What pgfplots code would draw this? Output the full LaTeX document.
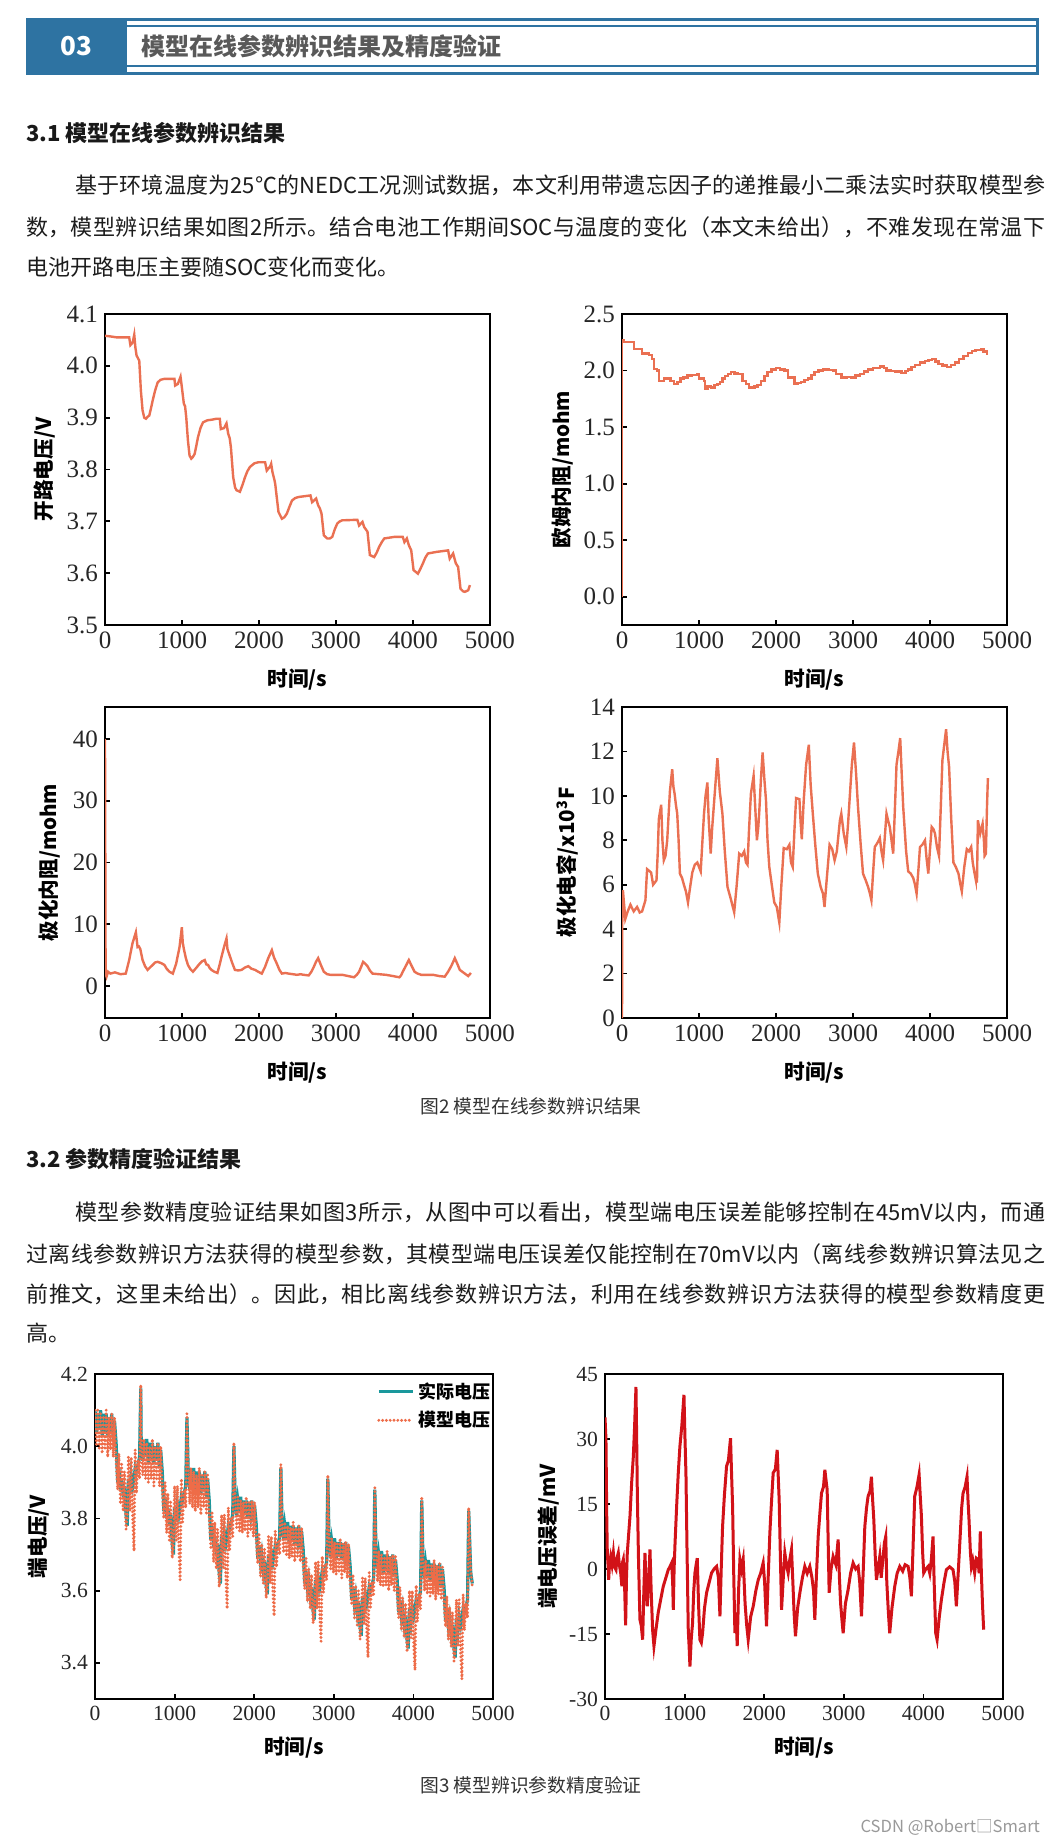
\documentclass[border=0pt]{standalone}
\usepackage{fontspec}
\setmainfont{Liberation Serif}
\newfontfamily\cjk{Noto Sans CJK SC}
\usepackage{pgfplots}
\pgfplotsset{compat=1.18}
\usepackage{pgfplotstable}
\XeTeXlinebreaklocale "zh"
\XeTeXlinebreakskip=0pt plus 2pt minus 0.2pt

\definecolor{hblue}{RGB}{46,115,162}
\definecolor{ocv}{RGB}{234,112,82}
\definecolor{teal2}{RGB}{26,152,156}
\definecolor{mod}{RGB}{238,108,72}
\definecolor{err}{RGB}{210,18,24}
\definecolor{txt}{RGB}{28,28,28}

\pgfplotsset{
  base/.style={scale only axis, xmin=0, xmax=5000, xtick={0,1000,...,5000},
    tick align=inside, xtick pos=left, ytick pos=left, major tick length=2.5pt,
    axis line style={line width=1.1pt}, every tick/.style={line width=0.9pt, black},
    /pgf/number format/assume math mode=true, /pgf/number format/1000 sep={},
    tick label style={text=black!85},
    label style={font=\cjk\bfseries\fontsize{10.3}{11}\selectfont},
    xlabel={时间/s}},
  f2/.style={base, width=192.5pt, height=155.5pt,
    tick label style={font=\fontsize{12.5}{12.5}\selectfont},
    xlabel style={at={(axis description cs:0.5,-0.174)}, anchor=center}},
  f3/.style={base, width=199pt, height=162.5pt,
    tick label style={font=\fontsize{10.8}{10.8}\selectfont},
    xlabel style={at={(axis description cs:0.5,-0.151)}, anchor=center}},
  onedec/.style={yticklabel style={/pgf/number format/.cd, fixed, fixed zerofill, precision=1}}
}

\pgfplotstableread{
t a b
0 4.10 4.10
20 4.04 4.00
35 4.09 4.10
55 4.05 3.99
70 4.10 4.09
90 4.03 3.98
105 4.09 4.08
125 4.04 3.99
140 4.09 4.10
160 4.03 3.97
175 4.08 4.08
195 4.04 3.99
210 4.09 4.09
230 4.02 3.97
245 4.07 4.08
265 4.01 3.96
285 3.90 3.88
300 3.94 3.98
320 3.88 3.84
335 3.91 3.95
355 3.86 3.82
370 3.89 3.93
390 3.81 3.77
405 3.78 3.80
420 3.91 3.97
440 3.87 3.82
455 3.92 3.97
475 3.89 3.79
490 3.91 3.71
505 3.94 3.99
520 3.93 3.87
540 3.95 3.96
560 3.97 3.91
575 4.16 4.17
580 4.02 4.02
600 3.96 3.92
615 4.01 4.02
635 3.97 3.91
650 4.02 4.01
670 3.95 3.90
685 4.01 4.00
705 3.96 3.91
720 4.01 4.02
740 3.95 3.89
755 4.00 4.00
775 3.96 3.91
790 4.01 4.01
810 3.94 3.89
825 3.99 4.00
845 3.93 3.88
865 3.82 3.80
880 3.86 3.90
900 3.80 3.76
915 3.83 3.87
935 3.78 3.74
950 3.81 3.85
970 3.73 3.69
985 3.70 3.72
1000 3.83 3.89
1020 3.79 3.74
1035 3.84 3.89
1055 3.81 3.71
1070 3.83 3.63
1085 3.86 3.91
1100 3.85 3.79
1120 3.87 3.88
1140 3.89 3.83
1155 4.08 4.09
1170 3.94 3.94
1190 3.88 3.84
1205 3.93 3.94
1225 3.89 3.83
1240 3.94 3.93
1260 3.87 3.82
1275 3.93 3.92
1295 3.88 3.83
1310 3.93 3.94
1330 3.87 3.81
1345 3.92 3.92
1365 3.88 3.83
1380 3.93 3.93
1400 3.86 3.81
1415 3.91 3.92
1435 3.85 3.80
1455 3.74 3.72
1470 3.78 3.82
1490 3.72 3.68
1505 3.75 3.79
1525 3.70 3.66
1540 3.73 3.77
1560 3.65 3.61
1575 3.62 3.64
1590 3.75 3.81
1610 3.71 3.66
1625 3.76 3.81
1645 3.73 3.63
1660 3.75 3.55
1675 3.78 3.83
1690 3.77 3.71
1710 3.79 3.80
1730 3.81 3.75
1745 4.00 4.01
1760 3.86 3.86
1780 3.81 3.775
1795 3.85 3.86
1815 3.815 3.765
1830 3.86 3.85
1850 3.80 3.76
1865 3.85 3.845
1885 3.81 3.765
1900 3.85 3.86
1920 3.80 3.75
1935 3.845 3.845
1955 3.81 3.765
1970 3.85 3.85
1990 3.79 3.75
2005 3.835 3.845
2025 3.785 3.74
2045 3.69 3.675
2060 3.725 3.76
2080 3.675 3.64
2095 3.70 3.73
2115 3.655 3.62
2130 3.68 3.715
2150 3.615 3.58
2165 3.59 3.605
2180 3.70 3.75
2200 3.665 3.62
2215 3.705 3.75
2235 3.68 3.595
2250 3.70 3.53
2265 3.725 3.765
2280 3.715 3.665
2300 3.73 3.74
2320 3.75 3.70
2335 3.94 3.95
2350 3.79 3.79
2370 3.74 3.705
2385 3.78 3.79
2405 3.745 3.695
2420 3.79 3.78
2440 3.73 3.69
2455 3.78 3.775
2475 3.74 3.695
2490 3.78 3.79
2510 3.73 3.68
2525 3.775 3.775
2545 3.74 3.695
2560 3.78 3.78
2580 3.72 3.68
2595 3.765 3.775
2615 3.715 3.67
2635 3.62 3.605
2650 3.655 3.69
2670 3.605 3.57
2685 3.63 3.66
2705 3.585 3.55
2720 3.61 3.645
2740 3.545 3.51
2755 3.52 3.535
2770 3.63 3.68
2790 3.595 3.55
2805 3.635 3.68
2825 3.61 3.525
2840 3.63 3.46
2855 3.655 3.695
2870 3.645 3.595
2890 3.66 3.67
2910 3.68 3.63
2925 3.91 3.92
2940 3.745 3.745
2960 3.695 3.66
2975 3.735 3.745
2995 3.70 3.65
3010 3.745 3.735
3030 3.685 3.645
3045 3.735 3.73
3065 3.695 3.65
3080 3.735 3.745
3100 3.685 3.635
3115 3.73 3.73
3135 3.695 3.65
3150 3.735 3.735
3170 3.675 3.635
3185 3.72 3.73
3205 3.67 3.625
3225 3.575 3.56
3240 3.61 3.645
3260 3.56 3.525
3275 3.585 3.615
3295 3.54 3.505
3310 3.565 3.60
3330 3.50 3.465
3345 3.475 3.49
3360 3.585 3.635
3380 3.55 3.505
3395 3.59 3.635
3415 3.565 3.48
3430 3.585 3.415
3445 3.61 3.65
3460 3.60 3.55
3480 3.615 3.625
3500 3.635 3.585
3515 3.88 3.89
3530 3.71 3.71
3550 3.66 3.625
3565 3.70 3.71
3585 3.665 3.615
3600 3.71 3.70
3620 3.65 3.61
3635 3.70 3.695
3655 3.66 3.615
3670 3.70 3.71
3690 3.65 3.60
3705 3.695 3.695
3725 3.66 3.615
3740 3.70 3.70
3760 3.64 3.60
3775 3.685 3.695
3795 3.635 3.59
3815 3.54 3.525
3830 3.575 3.61
3850 3.525 3.49
3865 3.55 3.58
3885 3.505 3.47
3900 3.53 3.565
3920 3.465 3.43
3935 3.44 3.455
3950 3.55 3.60
3970 3.515 3.47
3985 3.555 3.60
4005 3.53 3.445
4020 3.55 3.38
4035 3.575 3.615
4050 3.565 3.515
4070 3.58 3.59
4090 3.60 3.55
4105 3.85 3.86
4120 3.685 3.685
4140 3.635 3.60
4155 3.675 3.685
4175 3.64 3.59
4190 3.685 3.675
4210 3.625 3.585
4225 3.675 3.67
4245 3.635 3.59
4260 3.675 3.685
4280 3.625 3.575
4295 3.67 3.67
4315 3.635 3.59
4330 3.675 3.675
4350 3.615 3.575
4365 3.66 3.67
4385 3.61 3.565
4405 3.515 3.50
4420 3.55 3.585
4440 3.50 3.465
4455 3.525 3.555
4475 3.48 3.445
4490 3.505 3.54
4510 3.44 3.405
4525 3.415 3.43
4540 3.525 3.575
4560 3.49 3.445
4575 3.53 3.575
4595 3.505 3.42
4610 3.525 3.355
4625 3.55 3.59
4640 3.54 3.49
4660 3.555 3.565
4680 3.575 3.525
4695 3.82 3.83
4720 3.65 3.66
4740 3.62 3.61
}\uttab

\newcommand{\jline}[4]{\node[anchor=west,inner sep=0pt,text=txt] at (#1,#2) {\parbox{#3pt}{\cjk\fontsize{11}{13}\selectfont\parfillskip=0pt\relax #4\par}};}
\newcommand{\fline}[3]{\node[anchor=west,inner sep=0pt,text=txt] at (#1,#2) {\cjk\fontsize{11}{13}\selectfont #3};}

\begin{document}
\begin{tikzpicture}[x=0.5pt,y=-0.5pt]
\fill[white] (0,0) rectangle (1059,1842);
\path[use as bounding box] (0,0) rectangle (1059,1842);

% header
\fill[hblue] (26,18) rectangle (127,75);
\draw[hblue, line width=1.5pt] (27.5,19.5) rectangle (1037.5,73.5);
\draw[hblue, line width=0.6pt] (127,26) -- (1037,26);
\draw[hblue, line width=0.6pt] (127,66) -- (1037,66);
\node[text=white, font=\cjk\bfseries\fontsize{13}{13}\selectfont] at (76,46) {03};
\node[anchor=west, inner sep=0pt, text=black!65, font=\cjk\bfseries\fontsize{12}{12}\selectfont] at (141,46) {模型在线参数辨识结果及精度验证};

% section 3.1
\node[anchor=west, inner sep=0pt, text=black!90, font=\cjk\bfseries\fontsize{11}{11}\selectfont] at (26,133) {3.1 模型在线参数辨识结果};
\jline{75}{185}{485}{基于环境温度为25℃的NEDC工况测试数据，本文利用带遗忘因子的递推最小二乘法实时获取模型参}
\jline{26}{227}{509.5}{数，模型辨识结果如图2所示。结合电池工作期间SOC与温度的变化（本文未给出），不难发现在常温下}
\fline{26}{267}{电池开路电压主要随SOC变化而变化。}

% Figure 2 axes
\begin{axis}[f2, onedec, at={(52.5pt,-312.5pt)}, anchor=south west, ymin=3.5, ymax=4.1, ytick={3.5,3.6,...,4.1},
  ylabel={开路电压/V}, ylabel style={at={(axis description cs:-0.156,0.5)}, anchor=center}]
\addplot[ocv, line width=1.2pt] coordinates {(0,4.058)(60,4.057)(150,4.055)(250,4.055)(314,4.055)(330,4.04)(360,4.045)(380,4.06)(395,4.035)(410,4.02)(445,4.01)(466,3.952)(488,3.914)(510,3.900)(532,3.898)(555,3.902)(575,3.904)(600,3.92)(619,3.933)(650,3.952)(684,3.968)(720,3.973)(772,3.975)(850,3.975)(902,3.975)(911,3.962)(946,3.965)(981,3.979)(998,3.959)(1024,3.927)(1040,3.922)(1055,3.901)(1077,3.856)(1098,3.827)(1120,3.821)(1140,3.824)(1164,3.830)(1185,3.845)(1207,3.862)(1240,3.880)(1273,3.891)(1330,3.895)(1382,3.896)(1450,3.898)(1491,3.898)(1504,3.878)(1547,3.880)(1578,3.889)(1600,3.869)(1620,3.86)(1635,3.843)(1665,3.785)(1690,3.765)(1709,3.760)(1752,3.757)(1785,3.770)(1818,3.785)(1850,3.797)(1883,3.805)(1940,3.812)(1992,3.814)(2079,3.814)(2101,3.798)(2145,3.806)(2158,3.811)(2175,3.795)(2200,3.780)(2210,3.773)(2253,3.718)(2297,3.705)(2330,3.708)(2362,3.715)(2395,3.728)(2428,3.740)(2470,3.745)(2515,3.747)(2668,3.750)(2690,3.737)(2742,3.744)(2768,3.731)(2790,3.725)(2812,3.715)(2842,3.673)(2886,3.667)(2920,3.667)(2951,3.670)(2985,3.685)(3017,3.696)(3050,3.700)(3082,3.702)(3278,3.703)(3300,3.692)(3344,3.699)(3366,3.689)(3409,3.680)(3440,3.635)(3496,3.631)(3530,3.640)(3561,3.651)(3595,3.660)(3627,3.667)(3758,3.670)(3867,3.670)(3889,3.660)(3920,3.667)(3946,3.654)(3977,3.644)(4007,3.606)(4064,3.599)(4095,3.608)(4129,3.619)(4160,3.630)(4194,3.638)(4303,3.641)(4456,3.644)(4477,3.628)(4521,3.638)(4556,3.619)(4586,3.612)(4617,3.570)(4650,3.565)(4673,3.564)(4717,3.567)(4739,3.577)};
\end{axis}

\begin{axis}[f2, onedec, at={(311pt,-312.5pt)}, anchor=south west, ymin=-0.25, ymax=2.5, ytick={0,0.5,...,2.5},
  ylabel={欧姆内阻/mohm}, ylabel style={at={(axis description cs:-0.155,0.5)}, anchor=center}]
\addplot[ocv, line width=1.2pt, const plot] coordinates {(0,0)(0,2.265)(20,2.25)(152,2.19)(261,2.15)(348,2.14)(391,2.10)(413,2.015)(457,2.0)(478,1.91)(543,1.93)(630,1.91)(674,1.88)(720,1.90)(761,1.93)(800,1.94)(848,1.955)(900,1.96)(978,1.97)(1000,1.93)(1065,1.91)(1074,1.84)(1110,1.86)(1152,1.85)(1200,1.87)(1239,1.88)(1270,1.90)(1304,1.93)(1340,1.95)(1380,1.97)(1413,1.985)(1460,1.975)(1500,1.97)(1565,1.91)(1610,1.88)(1652,1.85)(1720,1.86)(1761,1.87)(1804,1.91)(1850,1.95)(1891,1.985)(1940,2.01)(2000,2.025)(2050,2.01)(2109,2.0)(2152,1.94)(2239,1.88)(2280,1.89)(2326,1.90)(2370,1.915)(2413,1.93)(2460,1.96)(2500,1.985)(2550,2.0)(2609,2.01)(2680,2.005)(2739,2.0)(2783,1.97)(2848,1.94)(2920,1.945)(2978,1.94)(3030,1.955)(3087,1.97)(3140,1.99)(3196,2.01)(3260,2.025)(3348,2.035)(3400,2.02)(3435,2.0)(3490,1.995)(3543,1.99)(3630,1.98)(3680,1.995)(3717,2.01)(3760,2.03)(3804,2.05)(3870,2.07)(3935,2.085)(3980,2.095)(4022,2.10)(4070,2.08)(4109,2.06)(4160,2.045)(4217,2.03)(4270,2.05)(4326,2.07)(4380,2.10)(4435,2.13)(4490,2.155)(4543,2.175)(4590,2.18)(4630,2.18)(4660,2.19)(4696,2.17)(4739,2.14)};
\end{axis}

\begin{axis}[f2, at={(52.5pt,-509pt)}, anchor=south west, ymin=-5.2, ymax=45.2, ytick={0,10,...,40},
  ylabel={极化内阻/mohm}, ylabel style={at={(axis description cs:-0.145,0.5)}, anchor=center}]
\addplot[ocv, line width=1.2pt] coordinates {(0,40)(8,2.0)(20,1.5)(40,2.3)(70,2.0)(130,2.2)(200,1.9)(270,2.0)(314,4.2)(357,6.9)(401,8.7)(423,6.3)(440,6.4)(458,6.0)(488,4.2)(520,3.2)(553,2.6)(585,3.0)(619,3.4)(650,3.8)(684,3.9)(730,3.7)(772,3.4)(800,2.8)(837,2.3)(881,2.0)(924,3.6)(968,6.3)(998,9.5)(1010,7.0)(1024,6.0)(1050,4.5)(1077,3.4)(1110,2.7)(1142,2.3)(1190,3.0)(1229,3.6)(1262,4.0)(1295,4.2)(1315,3.5)(1338,3.4)(1360,2.9)(1382,2.6)(1420,2.3)(1460,2.1)(1490,3.5)(1513,4.7)(1550,6.5)(1578,7.7)(1590,6.0)(1609,5.3)(1650,3.8)(1687,2.6)(1730,2.5)(1774,2.6)(1820,3.0)(1862,3.2)(1900,2.8)(1949,2.6)(1990,2.3)(2036,2.0)(2079,3.1)(2120,4.5)(2167,5.8)(2195,4.6)(2232,3.6)(2265,2.6)(2297,2.0)(2340,2.1)(2384,2.0)(2440,1.9)(2493,1.8)(2540,1.9)(2581,1.8)(2646,1.7)(2680,2.3)(2712,3.1)(2740,3.9)(2768,4.5)(2800,3.5)(2842,2.3)(2885,1.9)(2929,1.8)(3000,1.8)(3082,1.8)(3160,1.6)(3234,1.4)(3270,1.8)(3300,2.3)(3330,3.2)(3352,3.9)(3380,3.6)(3409,3.2)(3440,2.5)(3474,2.0)(3560,1.9)(3649,1.8)(3740,1.6)(3823,1.4)(3845,1.7)(3867,2.3)(3905,3.2)(3946,4.2)(3980,3.3)(4020,2.3)(4060,2.0)(4107,1.8)(4180,1.8)(4260,1.8)(4340,1.6)(4412,1.5)(4456,2.3)(4500,3.3)(4543,4.5)(4575,3.6)(4608,2.6)(4640,2.3)(4673,2.0)(4717,1.6)(4752,2.1)};
\end{axis}

\begin{axis}[f2, at={(311pt,-509pt)}, anchor=south west, ymin=0, ymax=14, ytick={0,2,...,14},
  ylabel={极化电容/x10\textsuperscript{3}F}, ylabel style={at={(axis description cs:-0.142,0.5)}, anchor=center}]
\addplot[ocv, line width=1.2pt] coordinates {(0,0)(5,5.7)(13,5.7)(43,4.46)(74,4.8)(109,5.1)(152,4.8)(196,5.0)(230,4.75)(261,4.8)(304,5.3)(326,6.7)(378,6.55)(404,6.0)(448,6.2)(465,7.5)(478,8.95)(509,9.6)(525,8.0)(543,7.1)(565,7.3)(587,8.0)(622,10.2)(652,11.2)(668,10.4)(683,10.1)(700,9.6)(717,9.2)(735,8.0)(752,6.5)(780,6.3)(804,6.0)(830,5.7)(857,5.2)(885,5.9)(913,6.55)(945,6.9)(978,7.0)(1000,6.8)(1022,6.6)(1045,8.0)(1065,9.2)(1085,10.0)(1109,10.6)(1125,9.0)(1152,7.4)(1170,8.5)(1187,9.3)(1215,10.6)(1239,11.7)(1270,10.2)(1304,9.2)(1335,7.5)(1370,5.9)(1410,5.4)(1457,4.76)(1490,6.0)(1522,7.4)(1555,7.3)(1587,7.5)(1610,7.0)(1630,6.9)(1650,8.5)(1674,10.1)(1709,10.9)(1730,9.5)(1752,8.0)(1770,8.6)(1783,9.3)(1805,10.8)(1826,11.95)(1848,10.8)(1870,9.8)(1890,8.0)(1913,6.8)(1945,6.0)(1978,5.2)(2010,5.0)(2043,4.3)(2070,6.0)(2100,7.65)(2140,7.6)(2174,7.8)(2195,7.0)(2217,6.8)(2240,8.5)(2261,9.9)(2304,9.85)(2320,8.8)(2335,8.05)(2360,9.8)(2391,11.4)(2426,12.3)(2450,10.5)(2478,9.2)(2510,7.8)(2543,6.5)(2580,5.9)(2610,5.6)(2630,5.0)(2660,6.3)(2696,7.8)(2730,7.6)(2761,7.1)(2790,7.5)(2804,8.0)(2830,8.9)(2848,9.2)(2880,8.3)(2913,7.7)(2935,8.7)(2957,9.9)(2985,11.4)(3013,12.4)(3040,11.0)(3065,9.5)(3100,7.8)(3130,6.5)(3165,6.2)(3196,5.9)(3220,5.6)(3239,5.3)(3260,6.5)(3283,7.7)(3320,7.9)(3348,8.1)(3370,7.5)(3391,7.1)(3410,8.0)(3435,9.2)(3455,8.9)(3478,8.6)(3500,8.0)(3522,7.4)(3545,9.5)(3565,11.4)(3590,12.0)(3613,12.6)(3630,11.2)(3652,9.5)(3690,7.5)(3717,6.6)(3750,6.5)(3783,6.3)(3805,6.0)(3826,5.6)(3850,6.7)(3870,7.7)(3900,7.8)(3935,8.0)(3955,7.2)(3978,6.5)(4000,7.6)(4022,8.6)(4045,8.5)(4065,8.3)(4090,7.7)(4117,7.3)(4140,9.5)(4161,11.6)(4185,12.3)(4209,13.0)(4228,12.0)(4248,11.3)(4275,9.0)(4304,7.0)(4335,6.8)(4370,6.5)(4395,6.0)(4413,5.7)(4445,6.8)(4478,7.6)(4505,7.5)(4535,7.7)(4555,7.0)(4574,6.6)(4596,6.2)(4600,6.6)(4610,6.1)(4622,8.9)(4652,8.3)(4683,8.75)(4700,8.0)(4709,7.3)(4726,7.4)(4740,9.5)(4752,10.8)};
\end{axis}

\node[text=black!80, font=\cjk\fontsize{9.4}{10}\selectfont] at (531,1106) {图2 模型在线参数辨识结果};

% section 3.2
\node[anchor=west, inner sep=0pt, text=black!90, font=\cjk\bfseries\fontsize{11}{11}\selectfont] at (26,1159) {3.2 参数精度验证结果};
\jline{75}{1212}{485}{模型参数精度验证结果如图3所示，从图中可以看出，模型端电压误差能够控制在45mV以内，而通}
\jline{26}{1254}{509.5}{过离线参数辨识方法获得的模型参数，其模型端电压误差仅能控制在70mV以内（离线参数辨识算法见之}
\jline{26}{1294}{509.5}{前推文，这里未给出）。因此，相比离线参数辨识方法，利用在线参数辨识方法获得的模型参数精度更}
\fline{26}{1333}{高。}

% Figure 3 axes
\begin{axis}[f3, onedec, at={(47.5pt,-849.5pt)}, anchor=south west, ymin=3.3, ymax=4.2, ytick={3.4,3.6,...,4.2},
  ylabel={端电压/V}, ylabel style={at={(axis description cs:-0.141,0.5)}, anchor=center},
  legend style={at={(1.02,1.0)}, anchor=north east, draw=none, fill=none,
    font=\cjk\bfseries\fontsize{9}{10}\selectfont, row sep=1pt},
  legend cell align=left]
\addplot[teal2, line width=1.6pt] table[x=t, y=a] {\uttab};
\addlegendentry{实际电压}
\addplot[mod, line width=1.6pt, line cap=round, dash pattern=on 0pt off 1.9pt] table[x=t, y=b] {\uttab};
\addlegendentry{模型电压}
\end{axis}

\begin{axis}[f3, at={(302.5pt,-849.5pt)}, anchor=south west, ymin=-30, ymax=45, ytick={-30,-15,...,45},
  ylabel={端电压误差/mV}, ylabel style={at={(axis description cs:-0.143,0.5)}, anchor=center}]
\addplot[err, line width=1.5pt] coordinates {(0,35)(12,30)(22,12)(29,3.7)(38,1)(46,-2.5)(58,1.5)(71,2.9)(88,1)(105,3.7)(120,0.5)(138,-0.15)(150,2.5)(167,3.7)(180,1)(197,-0.9)(212,-4)(220,1.5)(230,2.2)(245,-3)(259,-13)(270,-2)(280,3.7)(297,8)(314,12.2)(335,20)(356,26)(372,33)(389,42)(398,30)(406,17.5)(420,3)(439,-11.7)(455,-13)(473,-16.3)(488,-5)(502,3.7)(515,-3)(531,-8.6)(548,-3)(565,4.5)(580,-5)(598,-14)(615,-17.8)(640,-14)(669,-10)(700,-7)(732,-4)(765,-2)(795,-0.15)(815,0.5)(837,1.4)(850,-3)(858,-9.4)(868,0)(880,6)(900,14.5)(920,22)(941,28.3)(965,33)(980,37)(992,40.2)(1005,30)(1017,22)(1030,5)(1046,-14)(1057,-18)(1067,-22.5)(1084,-16)(1100,-12.5)(1115,-5)(1130,-0.9)(1145,1)(1159,2.5)(1175,-8)(1192,-16.3)(1210,-17)(1226,-14.8)(1250,-9)(1276,-5.5)(1310,-3)(1339,-0.9)(1370,0)(1402,0.6)(1425,-2)(1444,-10.9)(1460,0)(1477,9.8)(1500,17)(1527,23.7)(1550,25)(1577,30.2)(1590,22)(1603,14.5)(1618,-2)(1632,-14.8)(1645,-10)(1661,-17.8)(1678,-5)(1695,2.2)(1715,0)(1736,2.2)(1760,-8)(1780,-13)(1799,-16.3)(1830,-11)(1862,-8.6)(1895,-5)(1925,-2.5)(1955,-1)(1987,1.4)(2005,-3)(2029,-13.2)(2050,-2)(2071,8.3)(2090,15)(2113,22.2)(2140,23)(2163,27.5)(2175,22)(2188,16)(2203,3)(2218,-9.4)(2240,-2)(2259,3.7)(2280,1)(2301,-0.9)(2320,2)(2343,4.5)(2360,-3)(2375,-10)(2393,-15.5)(2420,-9)(2448,-5.5)(2480,-2)(2510,0.6)(2540,-1)(2573,0.6)(2600,-2)(2620,-5)(2636,-11.7)(2655,-2)(2678,7.5)(2700,13)(2720,17.5)(2745,19)(2762,22.9)(2780,20)(2791,18.3)(2805,5)(2816,-5.5)(2840,0)(2866,2.9)(2900,1)(2929,6.8)(2945,-2)(2960,-8)(2978,-12)(2992,-14.8)(3020,-8)(3054,-4.8)(3085,-1)(3117,1.4)(3150,0)(3180,0.6)(3200,-3)(3222,-10.9)(3245,0)(3264,9.8)(3285,14)(3305,16.8)(3330,18)(3347,21.3)(3362,16)(3377,11.4)(3395,3)(3410,-2.5)(3430,0)(3452,2.9)(3470,-2)(3490,2)(3510,6)(3527,7.5)(3540,-3)(3560,-10)(3577,-14.8)(3605,-9)(3640,-4)(3670,-1)(3703,0.6)(3740,-0.5)(3770,1)(3808,0.6)(3830,-2)(3849,-6.3)(3870,5)(3891,16.8)(3920,19)(3946,21.8)(3960,17)(3975,12.2)(3990,4)(4004,-0.9)(4030,0)(4059,0.6)(4080,-1)(4100,2.2)(4121,7.5)(4135,-3)(4155,-14.8)(4172,-16.3)(4200,-11)(4226,-7.1)(4260,-3)(4289,-0.15)(4330,0.5)(4372,-0.15)(4395,-3)(4414,-8.6)(4440,0)(4464,8.3)(4480,14)(4498,17.5)(4525,19)(4548,21.3)(4560,16)(4573,11.4)(4590,4)(4603,0.6)(4620,2)(4644,-0.9)(4665,2.5)(4686,2.2)(4700,-1)(4715,8.7)(4728,-0.9)(4742,-8)(4757,-14)};
\end{axis}

\node[text=black!80, font=\cjk\fontsize{9.4}{10}\selectfont] at (531,1785) {图3 模型辨识参数精度验证};
\node[anchor=east, text=black!40, font=\cjk\fontsize{8.3}{9}\selectfont] at (1047,1827) {CSDN @Robert□Smart};
\end{tikzpicture}
\end{document}
